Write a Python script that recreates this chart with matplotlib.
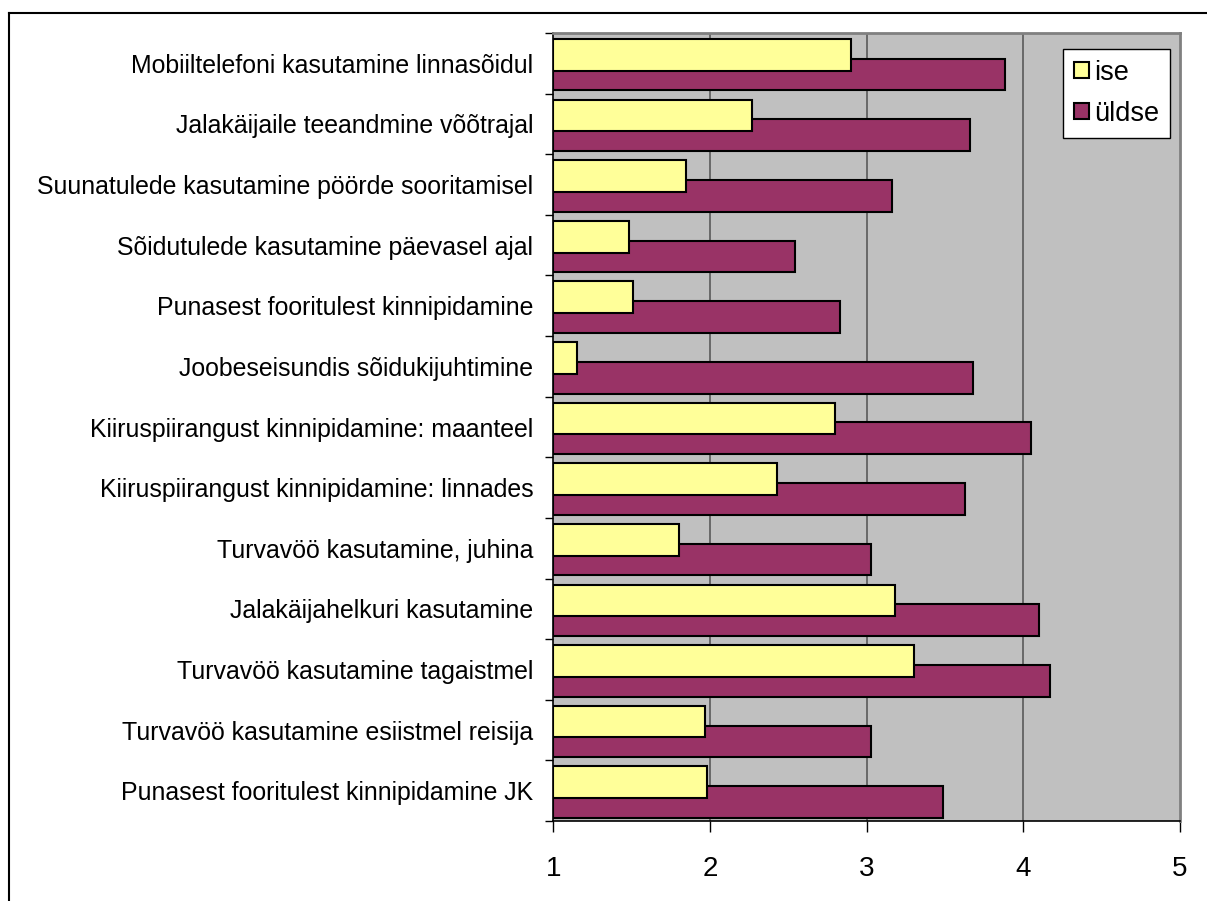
import matplotlib
matplotlib.use("Agg")
import matplotlib.pyplot as plt
from matplotlib.lines import Line2D
import numpy as np

categories = [
    "Mobiiltelefoni kasutamine linnasõidul",
    "Jalakäijaile teeandmine võõtrajal",
    "Suunatulede kasutamine pöörde sooritamisel",
    "Sõidutulede kasutamine päevasel ajal",
    "Punasest fooritulest kinnipidamine",
    "Joobeseisundis sõidukijuhtimine",
    "Kiiruspiirangust kinnipidamine: maanteel",
    "Kiiruspiirangust kinnipidamine: linnades",
    "Turvavöö kasutamine, juhina",
    "Jalakäijahelkuri kasutamine",
    "Turvavöö kasutamine tagaistmel",
    "Turvavöö kasutamine esiistmel reisija",
    "Punasest fooritulest kinnipidamine JK",
]
ise = [2.90, 2.27, 1.85, 1.48, 1.51, 1.15, 2.80, 2.43, 1.80, 3.18, 3.30, 1.97, 1.98]
uldse = [3.88, 3.66, 3.16, 2.54, 2.83, 3.68, 4.05, 3.63, 3.03, 4.10, 4.17, 3.03, 3.49]
series_names = ["ise", "üldse"]
x_ticks = [1, 2, 3, 4, 5]

plt.rcParams['font.family'] = ['Liberation Sans', 'DejaVu Sans']

W, H = 1207, 901
fig = plt.figure(figsize=(W / 100, H / 100), dpi=100)
fig.patch.set_facecolor('white')

left, right, top, bottom = 553.3, 1180, 33, 821
ax = fig.add_axes([left / W, 1 - bottom / H, (right - left) / W, (bottom - top) / H])
ax.set_facecolor('#C0C0C0')

pos = np.arange(len(categories))
h = 0.523
base = 1
ax.barh(pos + 0.187, np.array(uldse) - base, left=base, height=h, color='#993366',
        edgecolor='black', linewidth=1.5, zorder=2, label=series_names[1])
ax.barh(pos - 0.14, np.array(ise) - base, left=base, height=h, color='#FFFF99',
        edgecolor='black', linewidth=1.5, zorder=3, label=series_names[0])

ax.set_xlim(1, 5)
ax.set_ylim(len(categories) - 0.5, -0.5)
ax.set_xticks(x_ticks)
ax.set_xticklabels([str(t) for t in x_ticks], fontsize=20)
ax.tick_params(axis='x', length=8, width=1, direction='out', pad=17, color='black')

# category boundaries as major ticks, labels at centres as minor ticks
ax.set_yticks(np.arange(-0.5, len(categories), 1.0))
ax.set_yticklabels([])
ax.set_yticks(pos, minor=True)
ax.set_yticklabels(categories, minor=True, fontsize=17.9)
ax.tick_params(axis='y', which='major', length=6, width=1, direction='out', color='black')
ax.tick_params(axis='y', which='minor', length=0, pad=14.5)

for xv in x_ticks[1:-1]:
    ax.axvline(xv, color='#505050', linewidth=1.1, zorder=1)

for s in ['top', 'right']:
    ax.spines[s].set_color('#808080')
    ax.spines[s].set_linewidth(2)
for s in ['left', 'bottom']:
    ax.spines[s].set_color('black')
    ax.spines[s].set_linewidth(1.2)

handles, labels = ax.get_legend_handles_labels()
leg = ax.legend(handles[::-1], labels[::-1], loc='upper right',
                bbox_to_anchor=((1170 - left) / (right - left), 1 - (49 - top) / (bottom - top)),
                fontsize=19.5, frameon=True, fancybox=False, shadow=False, framealpha=1,
                handlelength=0.55, handleheight=0.55, handletextpad=0.2,
                labelspacing=0.55, borderpad=0.4, borderaxespad=0)
leg.get_frame().set_edgecolor('black')
leg.get_frame().set_linewidth(1)
leg.get_frame().set_facecolor('white')

# outer chart border (cut off on right and bottom)
fig.add_artist(Line2D([9 / W, 9 / W], [1 - 13 / H, 0], transform=fig.transFigure,
                      color='black', linewidth=1.5))
fig.add_artist(Line2D([9 / W, 1], [1 - 13 / H, 1 - 13 / H], transform=fig.transFigure,
                      color='black', linewidth=1.5))

fig.savefig('out.png', dpi=100)
